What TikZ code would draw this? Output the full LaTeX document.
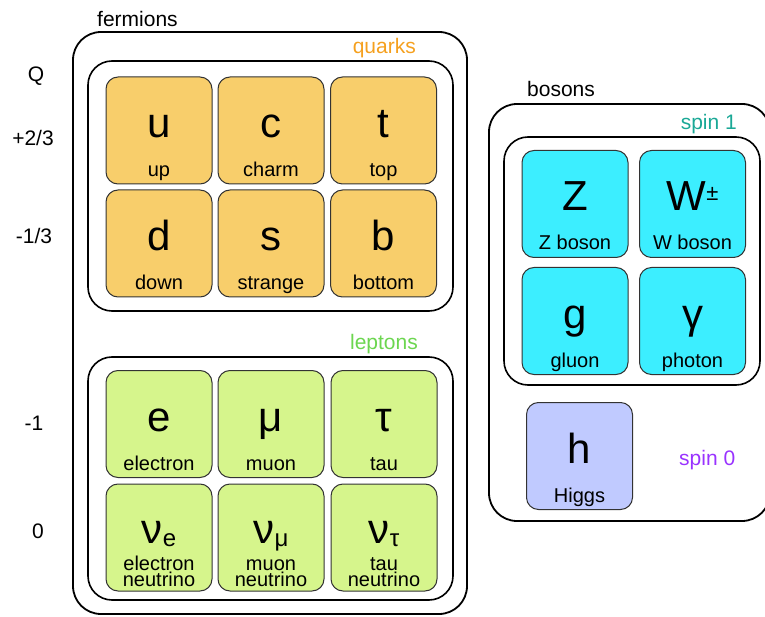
\documentclass[tikz,border=0pt]{standalone}
\usepackage{fontspec}
\setmainfont{Liberation Sans}
\usetikzlibrary{calc}
\definecolor{qfill}{RGB}{248,206,107}
\definecolor{lfill}{RGB}{214,245,140}
\definecolor{bfill}{RGB}{60,238,255}
\definecolor{hfill}{RGB}{192,202,255}
\definecolor{qtext}{RGB}{245,160,30}
\definecolor{ltext}{RGB}{108,214,80}
\definecolor{stext}{RGB}{26,168,150}
\definecolor{ptext}{RGB}{153,51,255}
\begin{document}
\begin{tikzpicture}[x=1pt,y=-1pt,
  group/.style={draw=black, line width=1.8pt, rounded corners=28pt},
  inner/.style={draw=black, line width=1.6pt, rounded corners=24pt},
  cell/.style={draw=black!80, line width=1pt, rounded corners=12pt, minimum width=106pt, minimum height=107pt, inner sep=0pt},
  sym/.style={anchor=base, inner sep=0pt, font=\fontsize{42}{42}\selectfont},
  nm/.style={anchor=base, inner sep=0pt, font=\fontsize{20}{20}\selectfont},
  lbl/.style={inner sep=0pt, font=\fontsize{21}{21}\selectfont},
]
\useasboundingbox (0,0) rectangle (765,617);
\newcommand\pcell[6]{%
  \node[cell, fill=#4] (#1) at (#2,#3) {};
  \node[sym] (#1s) at ($(#1.south)+(0,-47)$) {#5};
  \node[nm] (#1n) at ($(#1.south)+(0,-8)$) {#6};}
\newcommand\ncell[6]{%
  \node[cell, fill=#4] (#1) at (#2,#3) {};
  \node[sym] (#1s) at ($(#1.south)+(0,-48)$) {ν\raisebox{-3pt}{\fontsize{24}{24}\selectfont #5}};
  \node[nm] (#1n) at ($(#1.south)+(0,-21)$) {#6};
  \node[nm] (#1m) at ($(#1.south)+(0,-5)$) {neutrino};}

% fermions
\node[group, minimum width=394pt, minimum height=582pt] (ferm) at (270,323) {};
\node[lbl, anchor=base west] (fermlbl) at (97,27) {fermions};
\node[inner, minimum width=365pt, minimum height=250pt] (quarks) at (270.5,186) {};
\node[lbl, anchor=base east, text=qtext] (quarkslbl) at (416,54) {quarks};
\node[inner, minimum width=365pt, minimum height=243pt] (leptons) at (270.5,478.5) {};
\node[lbl, anchor=base east, text=ltext] (leptonslbl) at (418,349) {leptons};

\pcell{u}{159}{130.5}{qfill}{u}{up}
\pcell{c}{271}{130.5}{qfill}{c}{charm}
\pcell{t}{383.5}{130.5}{qfill}{t}{top}
\pcell{d}{159}{243.5}{qfill}{d}{down}
\pcell{s}{271}{243.5}{qfill}{s}{strange}
\pcell{b}{383.5}{243.5}{qfill}{b}{bottom}

\pcell{e}{159}{424}{lfill}{e}{electron}
\pcell{mu}{271}{424}{lfill}{μ}{muon}
\pcell{tau}{384}{424}{lfill}{τ}{tau}
\ncell{ne}{159}{537.5}{lfill}{e}{electron}
\ncell{nmu}{271}{537.5}{lfill}{μ}{muon}
\ncell{ntau}{384}{537.5}{lfill}{τ}{tau}

% charges
\node[lbl, anchor=base] (Q) at (36,82) {Q};
\node[lbl, anchor=base] (q1) at (33,146) {+2/3};
\node[lbl, anchor=base] (q2) at (34,244) {-1/3};
\node[lbl, anchor=base] (q3) at (34,430) {-1};
\node[lbl, anchor=base] (q4) at (38,538) {0};

% bosons
\node[group, minimum width=281pt, minimum height=417pt] (bos) at (629.5,312.5) {};
\node[lbl, anchor=base west] (boslbl) at (527,97) {bosons};
\node[inner, minimum width=256pt, minimum height=248pt] (spin1) at (632,261) {};
\node[lbl, anchor=base east, text=stext] (spin1lbl) at (737,130) {spin 1};

\pcell{Z}{575}{204}{bfill}{Z}{Z boson}
\pcell{W}{692.5}{204}{bfill}{W\raisebox{10pt}{\fontsize{22}{22}\selectfont ±}}{W boson}
\pcell{g}{575}{321}{bfill}{g}{gluon}
\pcell{gam}{692.5}{321}{bfill}{γ}{photon}
\pcell{h}{579.5}{456}{hfill}{h}{Higgs}
\node[lbl, anchor=base west, text=ptext] (spin0lbl) at (679,465) {spin 0};
\end{tikzpicture}
\end{document}
